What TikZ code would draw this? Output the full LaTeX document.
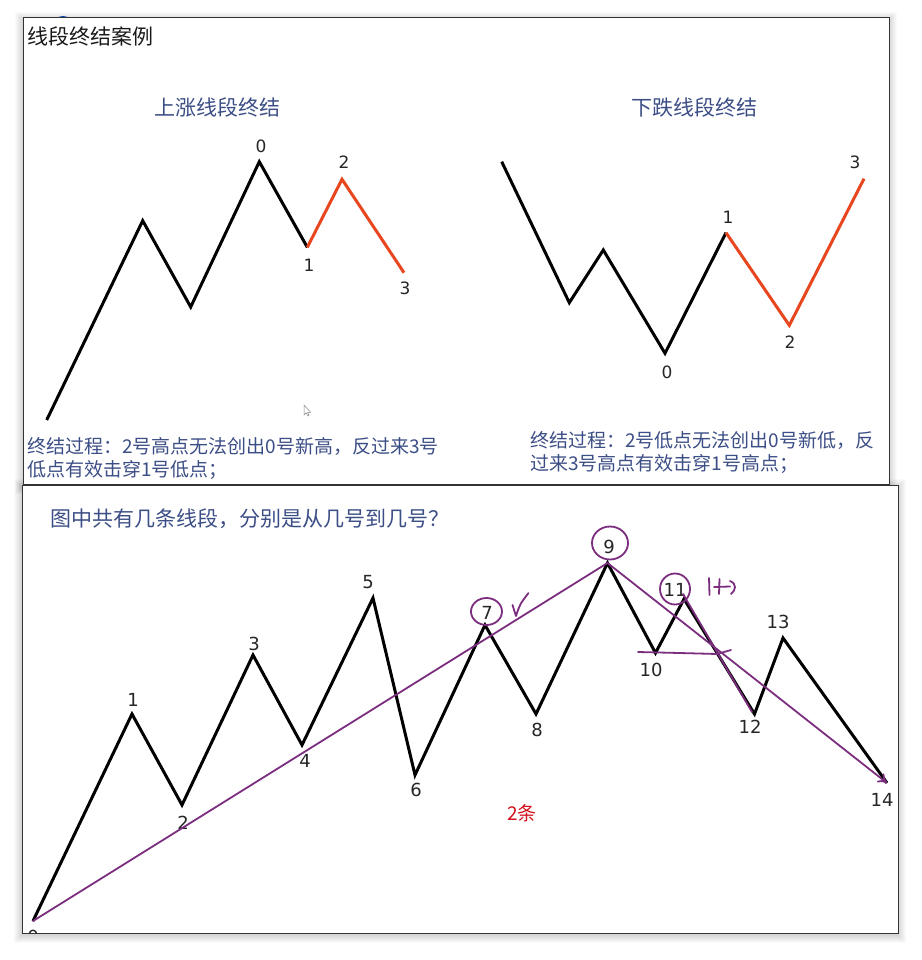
\documentclass[tikz,border=0pt]{standalone}
\usepackage{fontspec}
\setmainfont{DejaVu Sans}
\newfontfamily\cjk{Noto Sans CJK SC}
\usetikzlibrary{arrows.meta}
\definecolor{titleblue}{HTML}{3C4E86}
\definecolor{segred}{HTML}{E8461E}
\definecolor{pen}{HTML}{7B2D7E}
\definecolor{ansred}{HTML}{D3121C}
\begin{document}
\begin{tikzpicture}[x=1pt,y=-1pt,
  panel/.style={draw=black!80, line width=1pt, fill=white},
  wave/.style={line width=3pt, black},
  redwave/.style={line width=3pt, segred},
  numlab/.style={font=\fontsize{17}{17}\selectfont, text=black!85, inner sep=0},
  bignum/.style={font=\fontsize{18}{18}\selectfont, text=black!85, inner sep=0},
  headtxt/.style={font=\cjk\fontsize{21}{21}\selectfont, inner sep=0},
  bodytxt/.style={font=\cjk\fontsize{19}{19}\selectfont, text=titleblue, inner sep=0, anchor=west},
  penline/.style={pen, line width=1.8pt, line cap=round, line join=round}
]
\useasboundingbox (0,0) rectangle (921,960);
\fill[white] (0,0) rectangle (921,960);
% shadows
\foreach \d in {1,...,8}{
  \fill[black, opacity=0.018] (23-\d,18-\d+2) rectangle (889+\d,484+\d+2);
  \fill[black, opacity=0.018] (22-\d,485-\d+2) rectangle (898+\d,933+\d+2);
}
% top-left icon sliver
\fill[blue!60!cyan!70!black] (63,28) circle (12);
% ===== top panel =====
\draw[panel] (23,18) rectangle (889,484);
\node[headtxt, text=black!90, anchor=west] (ttl) at (27,37) {线段终结案例};
\node[headtxt, text=titleblue] (hup) at (217,107) {上涨线段终结};
\node[headtxt, text=titleblue] (hdn) at (694,107) {下跌线段终结};

% left chart
\coordinate (a0) at (46.7,420);
\coordinate (a1) at (142.7,220.7);
\coordinate (a2) at (190.7,307);
\coordinate (u0) at (259.3,161.7);
\coordinate (u1) at (307.3,247.3);
\coordinate (u2) at (342,179.3);
\coordinate (u3) at (404,272.7);
\draw[wave] (a0) -- (a1) -- (a2) -- (u0) -- (u1);
\draw[redwave] (u1) -- (u2) -- (u3);
\node[numlab] (lu0) at (261,146) {0};
\node[numlab] (lu1) at (309,265) {1};
\node[numlab] (lu2) at (344,162) {2};
\node[numlab] (lu3) at (405,288) {3};

% right chart
\coordinate (b0) at (501.7,161.7);
\coordinate (b1) at (569.3,302.7);
\coordinate (b2) at (603.3,250);
\coordinate (d0) at (665,353.3);
\coordinate (d1) at (726,232.7);
\coordinate (d2) at (789.3,325.3);
\coordinate (d3) at (864,178.7);
\draw[wave] (b0) -- (b1) -- (b2) -- (d0) -- (d1);
\draw[redwave] (d1) -- (d2) -- (d3);
\node[numlab] (ld0) at (667,372) {0};
\node[numlab] (ld1) at (728,217) {1};
\node[numlab] (ld2) at (790,342) {2};
\node[numlab] (ld3) at (855,162) {3};

% cursor
\draw[black!45, line width=0.5pt, fill=white] (304,405) -- (304,415) -- (306.3,412.8) -- (307.8,416) -- (309,415.4) -- (307.6,412.3) -- (310.6,412.3) -- cycle;

\node[bodytxt] (t1a) at (27,446) {终结过程：2号高点无法创出0号新高，反过来3号};
\node[bodytxt] (t1b) at (27,470) {低点有效击穿1号低点；};
\node[bodytxt] (t2a) at (530,440) {终结过程：2号低点无法创出0号新低，反};
\node[bodytxt] (t2b) at (530,464) {过来3号高点有效击穿1号高点；};

% ===== bottom panel =====
\draw[panel] (22,485) rectangle (898,933);
\begin{scope}
\clip (22.5,485.5) rectangle (897.5,932.5);
\node[headtxt, text=titleblue, anchor=west] (q) at (50,519) {图中共有几条线段，分别是从几号到几号？};
\coordinate (p0) at (33,921);
\coordinate (p1) at (132,714);
\coordinate (p2) at (182,805);
\coordinate (p3) at (253,655);
\coordinate (p4) at (302,745);
\coordinate (p5) at (373,598);
\coordinate (p6) at (415,775);
\coordinate (p7) at (485,625);
\coordinate (p8) at (536,714);
\coordinate (p9) at (607.5,563);
\coordinate (p10) at (655.5,653);
\coordinate (p11) at (684,599);
\coordinate (p12) at (754.5,714);
\coordinate (p13) at (783,638);
\coordinate (p14) at (887,783);
\draw[wave] (p0) -- (p1) -- (p2) -- (p3) -- (p4) -- (p5) -- (p6) -- (p7) -- (p8) -- (p9) -- (p10) -- (p11) -- (p12) -- (p13) -- (p14);
\node[bignum] (n0) at (33,937) {0};
\node[bignum] (n1) at (133,700) {1};
\node[bignum] (n2) at (183,823) {2};
\node[bignum] (n3) at (254,644) {3};
\node[bignum] (n4) at (305,761) {4};
\node[bignum] (n5) at (368,582) {5};
\node[bignum] (n6) at (416,790) {6};
\node[bignum] (n7) at (487,613) {7};
\node[bignum] (n8) at (537,730) {8};
\node[bignum] (n9) at (609,547) {9};
\node[bignum] (n10) at (651,670) {10};
\node[bignum] (n11) at (675,590) {11};
\node[bignum] (n12) at (750,727) {12};
\node[bignum] (n13) at (778,622) {13};
\node[bignum] (n14) at (882,800) {14};
% pen annotations
\draw[penline] (p0) -- (p9);
\draw[penline, -{To[length=9pt,width=11pt]}] (p9) -- (p14);
\coordinate (s11) at (683,594);
\coordinate (s12) at (752,712);
\draw[penline] (s11) -- (s12);
\coordinate (h0) at (638,652);
\coordinate (h1) at (717,654);
\coordinate (h2) at (731,650);
\draw[penline] (h0) .. controls (680,653) .. (h1) -- (h2);
\draw[penline] (486.5,611.5) ellipse (15.5 and 13.5);
\draw[penline] (610,543) ellipse (18 and 16.5);
\draw[penline] (675,589) ellipse (15 and 15.5);
% check mark
\coordinate (c0) at (512.5,605);
\coordinate (c1) at (516,616);
\coordinate (c2) at (528.5,593);
\draw[penline] (c0) -- (c1) .. controls (520,604) .. (c2);
% "+1" handwriting
\draw[penline] (709,578) -- (709.5,595);
\draw[penline] (714,587) -- (730,586.5);
\draw[penline] (719.5,579) -- (719,594);
\draw[penline] (730,581) .. controls (737,584) and (736,590) .. (731,594);
\node[font=\cjk\fontsize{19}{19}\selectfont, text=ansred, inner sep=0] (ans) at (522,813) {2条};
\end{scope}
\end{tikzpicture}
\end{document}
